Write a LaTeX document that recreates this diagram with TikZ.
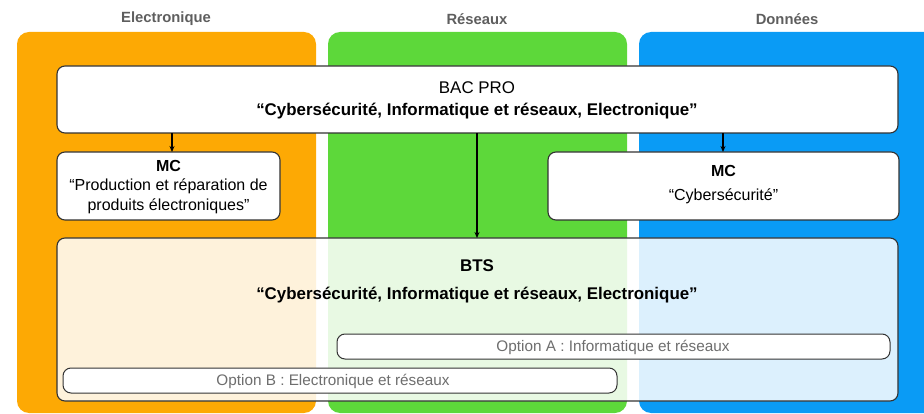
\documentclass[tikz,border=0pt]{standalone}
\usepackage{fontspec}
\setmainfont{Liberation Sans}
\usetikzlibrary{arrows.meta}
\definecolor{colorange}{HTML}{FDA904}
\definecolor{colgreen}{HTML}{5DD83A}
\definecolor{colblue}{HTML}{0A9BF5}
\definecolor{hdrgray}{HTML}{5E5E5E}
\definecolor{optgray}{HTML}{6E6E6E}
\definecolor{edgegray}{HTML}{333333}
\tikzset{
  column/.style={rounded corners=12pt},
  hdr/.style={text=hdrgray, font=\fontsize{14.8}{16}\selectfont\bfseries},
  card/.style={draw=edgegray, line width=1.1pt, fill=white, rounded corners=8pt},
  btscard/.style={draw=edgegray, line width=1.1pt, fill=white, fill opacity=0.86, rounded corners=8pt},
  optcard/.style={draw=edgegray, line width=1pt, fill=white, rounded corners=8pt},
  txt/.style={align=center, font=\fontsize{16.9}{22}\selectfont},
  opttxt/.style={text=optgray, font=\fontsize{15.3}{16}\selectfont},
  arr/.style={-{Stealth[length=6pt,width=5pt]}, line width=1.1pt, black},
}
\begin{document}
\begin{tikzpicture}[x=1pt,y=-1pt]
\useasboundingbox (0,0) rectangle (924,414);
% columns
\fill[colorange, column] (17,32) rectangle (316,413);
\fill[colgreen, column] (328,32) rectangle (627,413);
\fill[colblue, column] (639,32) rectangle (950,413);
\node[hdr] (h1) at (166,19) {Electronique};
\node[hdr] (h2) at (477,19) {Réseaux};
\node[hdr] (h3) at (787,19) {Données};
% BTS
\draw[btscard] (57,238) rectangle (898,401);
\node[txt, font=\fontsize{16.9}{28}\selectfont] (bts) at (477,281) {\textbf{BTS}\\\textbf{“Cybersécurité, Informatique et réseaux, Electronique”}};
\coordinate (btstop) at (477,238);
% options
\draw[optcard] (337,334) rectangle (890,359);
\node[opttxt] (opa) at (613,347) {Option A : Informatique et réseaux};
\draw[optcard] (63,368) rectangle (617,393);
\node[opttxt] (opb) at (333,381) {Option B : Electronique et réseaux};
% BAC PRO
\draw[card] (57,66) rectangle (898,133);
\node[txt] (bac) at (477,100) {BAC PRO\\\textbf{“Cybersécurité, Informatique et réseaux, Electronique”}};
\coordinate (bacl) at (172,133);
\coordinate (bacm) at (477,133);
\coordinate (bacr) at (723,133);
% MC
\draw[card] (57,152) rectangle (280,220);
\node[txt, font=\fontsize{16}{19.5}\selectfont] (mcl) at (168.5,187) {\textbf{MC}\\“Production et réparation de\\produits électroniques”};
\coordinate (mcltop) at (172,152);
\draw[card] (548,152) rectangle (899,220);
\node[txt, font=\fontsize{16}{24}\selectfont] (mcr) at (723.5,185) {\textbf{MC}\\“Cybersécurité”};
\coordinate (mcrtop) at (723,152);
% arrows
\draw[arr] (bacl) -- (mcltop);
\draw[arr] (bacr) -- (mcrtop);
\draw[arr] (bacm) -- (btstop);
\end{tikzpicture}
\end{document}
